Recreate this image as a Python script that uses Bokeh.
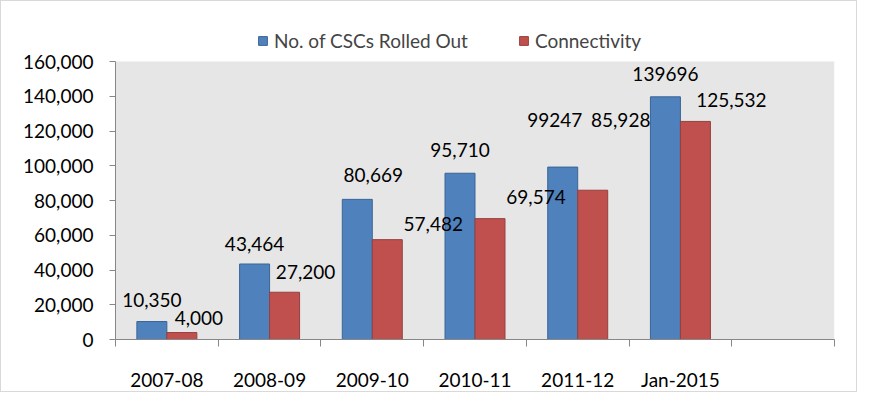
from bokeh.plotting import figure
from bokeh.models import (ColumnDataSource, FixedTicker, NumeralTickFormatter, Legend,
                          LegendItem, Range1d, BoxAnnotation)
from bokeh.core.properties import value
from bokeh.embed import file_html
from bokeh.resources import INLINE

# ---- data ----
periods = ["2007-08", "2008-09", "2009-10", "2010-11", "2011-12", "Jan-2015"]
cscs_rolled_out = [10350, 43464, 80669, 95710, 99247, 139696]
connectivity = [4000, 27200, 57482, 69574, 85928, 125532]
cscs_labels = ["10,350", "43,464", "80,669", "95,710", "99247", "139696"]
conn_labels = ["4,000", "27,200", "57,482", "69,574", "85,928", "125,532"]
y_ticks = [0, 20000, 40000, 60000, 80000, 100000, 120000, 140000, 160000]
Y_MAX = 160000

# ---- style / layout ----
FONT = "Lato"
BLUE, BLUE_EDGE = "#4F81BD", "#3A6596"
RED, RED_EDGE = "#C0504D", "#94403D"
AXIS = "#878787"
n_slots = len(periods) + 1          # one empty slot at the right
bar_w = 0.292
W, H = 857, 392
LEFT, RIGHT, TOP, BOTTOM = 114, 24, 8, 48
PLOT_H = 283                        # height of the grey plot area in px
FRAME_H = H - TOP - BOTTOM
y_end = Y_MAX * FRAME_H / PLOT_H    # extra room above the grey area for the legend

# manual label nudges (pixels) as placed in the original
cscs_dx = [0, 0, 16, 0, -8, 0]
cscs_dy = [-22, -20, -24, -23, -47, -23]
conn_dx = [17, 21, 46, 46, 28, 36]
conn_dy = [-15, -20, -16, -22, -70, -21]

centers = [i + 0.5 for i in range(len(periods))]
blue_x = [c - bar_w / 2 for c in centers]
red_x = [c + bar_w / 2 for c in centers]

src_b = ColumnDataSource(dict(x=blue_x, top=cscs_rolled_out, lab=cscs_labels,
                              dx=cscs_dx, dy=cscs_dy))
src_r = ColumnDataSource(dict(x=red_x, top=connectivity, lab=conn_labels,
                              dx=conn_dx, dy=conn_dy))

p = figure(width=W, height=H, output_backend="svg", toolbar_location=None,
           x_range=Range1d(0, n_slots), y_range=Range1d(0, y_end),
           min_border_left=LEFT, min_border_right=RIGHT, min_border_top=TOP,
           min_border_bottom=BOTTOM, styles={"border": "1px solid #D9D9D9"})
p.background_fill_color = "white"
p.border_fill_color = "white"
p.outline_line_color = None
p.xgrid.visible = False
p.ygrid.visible = False

# grey plot area from 0 to the axis maximum
p.add_layout(BoxAnnotation(left=0, right=n_slots, bottom=0, top=Y_MAX,
                           fill_color="#E6E6E6", fill_alpha=1, line_color=None,
                           level="underlay"))

rb = p.vbar(x="x", top="top", width=bar_w, source=src_b, fill_color=BLUE,
            line_color=BLUE_EDGE, line_width=1)
rr = p.vbar(x="x", top="top", width=bar_w, source=src_r, fill_color=RED,
            line_color=RED_EDGE, line_width=1)

for src in (src_b, src_r):
    p.text(x="x", y="top", text="lab", source=src, x_offset="dx", y_offset="dy",
           text_align="center", text_baseline="middle",
           text_font=value(FONT), text_font_size="19px", text_color="black")

# x axis: labels at slot centers, tick marks at slot boundaries
xt = FixedTicker(ticks=[i + 0.5 for i in range(n_slots)],
                 minor_ticks=list(range(n_slots + 1)))
p.xaxis.ticker = xt
p.xaxis.major_label_overrides = {i + 0.5: (periods[i] if i < len(periods) else "")
                                 for i in range(n_slots)}
p.xaxis.major_tick_line_color = None
p.xaxis.minor_tick_in = 0
p.xaxis.minor_tick_out = 7
p.xaxis.minor_tick_line_color = AXIS
p.xaxis.axis_line_color = AXIS
p.xaxis.major_label_standoff = 21
p.xaxis.major_label_text_font = FONT
p.xaxis.major_label_text_font_size = "19px"
p.xaxis.major_label_text_color = "black"

p.yaxis.ticker = FixedTicker(ticks=y_ticks)
p.yaxis.bounds = (0, Y_MAX)
p.yaxis.formatter = NumeralTickFormatter(format="0,0")
p.yaxis.minor_tick_line_color = None
p.yaxis.major_tick_in = 0
p.yaxis.major_tick_out = 6
p.yaxis.major_tick_line_color = AXIS
p.yaxis.axis_line_color = AXIS
p.yaxis.major_label_standoff = 16
p.yaxis.major_label_text_font = FONT
p.yaxis.major_label_text_font_size = "19px"
p.yaxis.major_label_text_color = "black"

legend = Legend(items=[LegendItem(label="No. of CSCs Rolled Out", renderers=[rb]),
                       LegendItem(label="Connectivity", renderers=[rr])],
                orientation="horizontal", location=(142, 287),
                label_text_font=FONT, label_text_font_size="19px",
                glyph_width=11, glyph_height=11, label_standoff=6, spacing=50,
                padding=0, margin=0, border_line_color=None,
                background_fill_alpha=0)
p.add_layout(legend, "center")

open("out.html", "w").write(file_html(p, INLINE))
